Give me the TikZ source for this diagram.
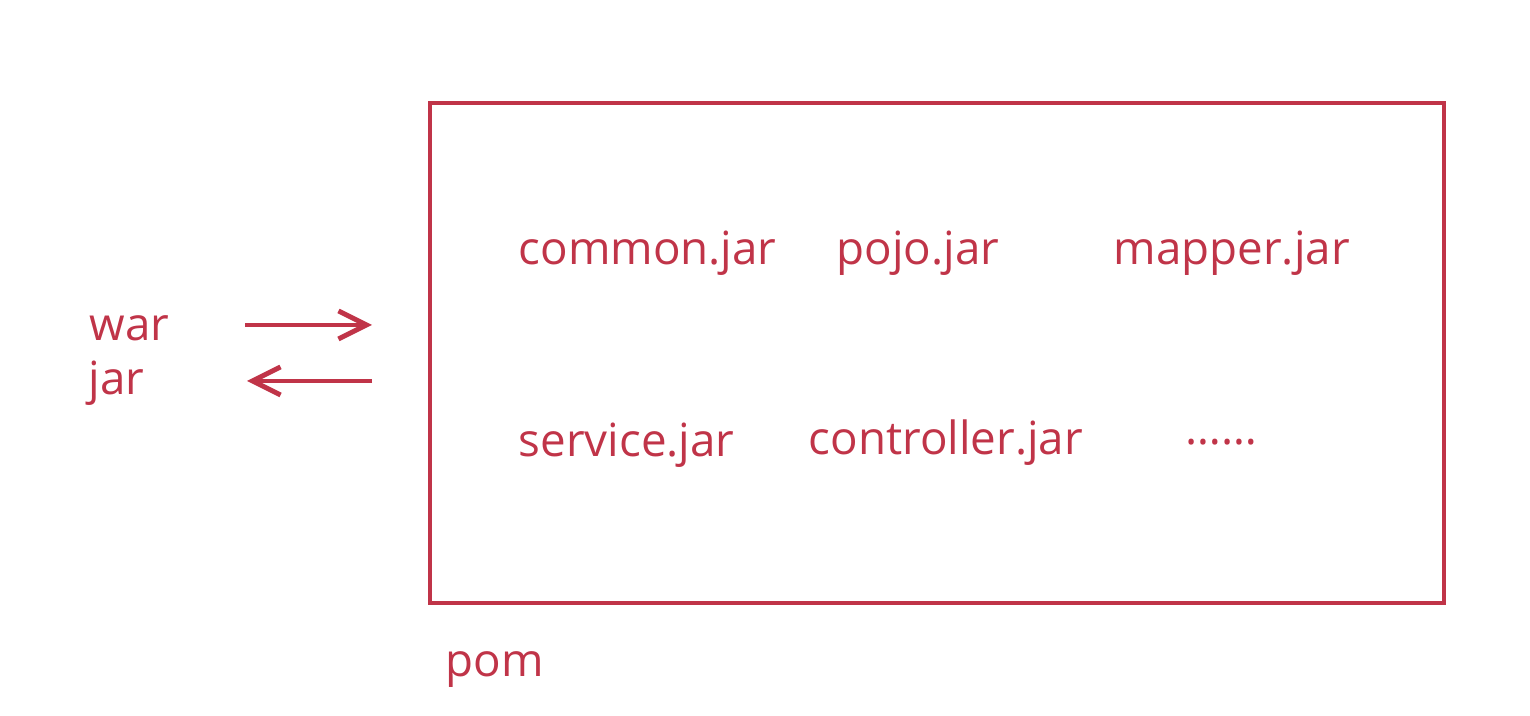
\documentclass[tikz,border=0pt]{standalone}
\usepackage{fontspec}
\setmainfont{Open Sans}
\usetikzlibrary{arrows.meta}
\definecolor{jarred}{RGB}{192,52,72}

\begin{document}
\begin{tikzpicture}[x=0.01cm,y=-0.01cm,
 txt/.style={text=jarred,font=\fontsize{13}{15}\selectfont,inner sep=0pt,anchor=base west},
 pkg/.style={draw=jarred,line width=1.4pt},
 conv/.style={draw=jarred,line width=1.4pt,-{Straight Barb[length=2.8mm,width=2.8mm,line width=1.4pt]}}]
\useasboundingbox (0,0) rectangle (1530,716);
\node[pkg,minimum width=1014*0.01cm,minimum height=500*0.01cm,inner sep=0pt] (box) at (937,353) {};
\node[txt] (common) at (518,265) {common.jar};
\node[txt] (pojo) at (836,265) {pojo.jar};
\node[txt] (mapper) at (1113,265) {mapper.jar};
\node[txt] (service) at (518,457) {service.jar};
\node[txt] (controller) at (808,455) {controller.jar};
\node[txt] (more) at (1185,445) {……};
\node[txt] (war) at (89,341) {war};
\node[txt] (jar) at (88,395) {jar};
\node[txt] (pom) at (445,677) {pom};
\coordinate (war-end) at (245,325);
\coordinate (jar-end) at (247,381);
\draw[conv] (war-end) -- ++(127,0);
\draw[conv] (jar-end) ++(125,0) -- (jar-end);
\end{tikzpicture}
\end{document}
